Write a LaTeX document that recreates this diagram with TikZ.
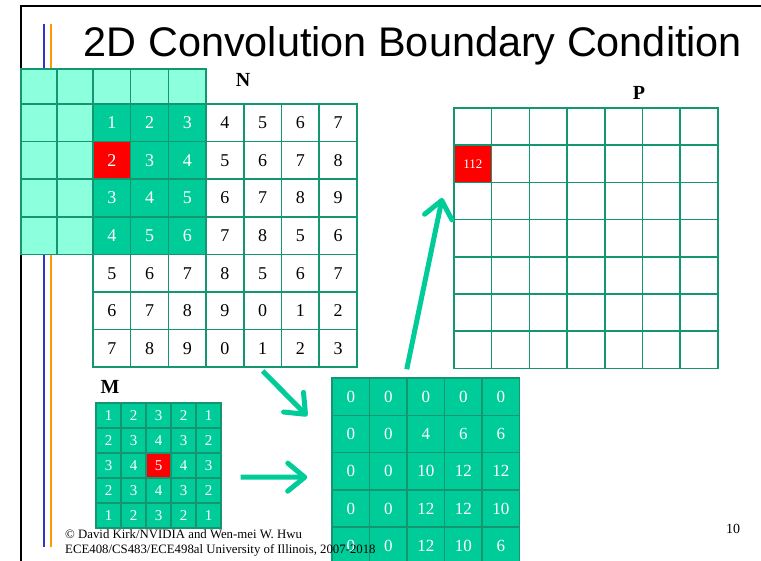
\documentclass[tikz,border=0pt]{standalone}
\usepackage{fontspec}
\setmainfont{Liberation Serif}
\newfontfamily\headfont{Liberation Sans}
\usetikzlibrary{arrows.meta,calc}
\definecolor{cellline}{RGB}{20,150,112}
\definecolor{mint}{RGB}{0,204,153}
\definecolor{ghost}{RGB}{140,255,221}
\definecolor{barblue}{RGB}{51,51,204}
\definecolor{barorange}{RGB}{255,153,0}

\begin{document}
\begin{tikzpicture}[x=1pt,y=-1pt,
  frame/.style={draw=black,line width=2.4pt},
  bar/.style={line width=2.6pt},
  cell/.style={draw=cellline,line width=1.5pt,inner sep=0pt,minimum width=37.7pt,minimum height=37.6pt,font=\fontsize{18}{18}\selectfont},
  ghostcell/.style={cell,fill=ghost},
  kcell/.style={cell,fill=mint,text=white,minimum width=25pt,minimum height=25pt,line width=1.2pt,font=\fontsize{15}{15}\selectfont},
  scell/.style={cell,fill=mint,text=white,minimum width=37.5pt,minimum height=37.3pt,font=\fontsize{17}{17}\selectfont},
  pcell/.style={cell,fill=white,minimum height=37.2pt},
  gridtitle/.style={font=\fontsize{20}{20}\selectfont\bfseries},
  foot/.style={font=\fontsize{12.8}{12.8}\selectfont,inner sep=0pt},
  flow/.style={draw=mint,line width=5pt,-{Straight Barb[length=17pt,width=28pt,round]}},
]

\clip (0,0) rectangle (761,561);
\fill[white] (0,0) rectangle (761,561);
\draw[frame] (21,561) -- (21,6) -- (761,6);
\draw[bar,barblue] (44,24) -- (44,547);
\draw[bar,barorange] (51,24) -- (51,547);

\node[anchor=base,inner sep=0pt,font=\headfont\fontsize{41.4}{41.4}\selectfont] (title) at (413,57) {2D Convolution Boundary Condition};

\foreach \c/\x in {1/39,2/75} {
  \node[ghostcell,minimum width=36pt,minimum height=35pt] (g-0-\c) at (\x,86.5) {};
  \foreach \r in {1,...,4}
    \node[ghostcell,minimum width=36pt] (g-\r-\c) at (\x,{104+37.6*(\r-0.5)}) {};
}
\foreach \c in {1,2,3}
  \node[ghostcell,minimum height=35pt] (g-0-n\c) at ({93+37.7*(\c-0.5)},86.5) {};

\foreach \row [count=\r] in {{1,2,3,4,5,6,7},{2,3,4,5,6,7,8},{3,4,5,6,7,8,9},{4,5,6,7,8,5,6},{5,6,7,8,5,6,7},{6,7,8,9,0,1,2},{7,8,9,0,1,2,3}} {
  \foreach \v [count=\c] in \row {
    \def\fc{white}\def\tc{black}
    \ifnum\r<5 \ifnum\c<4 \def\fc{mint}\def\tc{white}\fi\fi
    \ifnum\r=2 \ifnum\c=1 \def\fc{red}\fi\fi
    \node[cell,fill=\fc,text=\tc] (n-\r-\c) at ({93+37.7*(\c-0.5)},{104+37.6*(\r-0.5)}) {\v};
  }
}
\node[gridtitle] (nlabel) at (243,80) {N};

\foreach \r in {1,...,7}
  \foreach \c in {1,...,7}
    \node[pcell] (p-\r-\c) at ({454+37.7*(\c-0.5)},{108+37.2*(\r-0.5)}) {};
\node[pcell,fill=red,text=white,font=\fontsize{13}{13}\selectfont] (phit) at (p-2-1) {112};
\node[gridtitle] (plabel) at (639,93) {P};

\foreach \row [count=\r] in {{1,2,3,2,1},{2,3,4,3,2},{3,4,5,4,3},{2,3,4,3,2},{1,2,3,2,1}} {
  \foreach \v [count=\c] in \row {
    \def\fc{mint}
    \ifnum\r=3 \ifnum\c=3 \def\fc{red}\fi\fi
    \node[kcell,fill=\fc] (m-\r-\c) at ({96+25*(\c-0.5)},{403+25*(\r-0.5)}) {\v};
  }
}
\node[gridtitle] (mlabel) at (110,387) {M};

\foreach \row [count=\r] in {{0,0,0,0,0},{0,0,4,6,6},{0,0,10,12,12},{0,0,12,12,10},{0,0,12,10,6}} {
  \foreach \v [count=\c] in \row
    \node[scell] (s-\r-\c) at ({332+37.5*(\c-0.5)},{378+37.3*(\r-0.5)}) {\v};
}

\coordinate (nout) at ($(n-7-5.south)+(0,3)$);
\coordinate (sin) at ($(s-1-1.south west)+(-24,0)$);
\coordinate (mout) at ($(m-3-5.east)+(19,11.5)$);
\coordinate (sleft) at ($(s-3-1.west)+(-24,6)$);
\coordinate (sout) at ($(s-1-2.north east)+(-1,-8)$);
\coordinate (pin) at ($(p-3-1.west)+(-11,-3)$);
\draw[flow] (nout) -- (sin);
\draw[flow] (mout) -- (sleft);
\draw[flow] (sout) -- (pin);

\node[foot,anchor=base west] (credit) at (65,538) {© David Kirk/NVIDIA and Wen-mei W. Hwu};
\node[foot,anchor=base west] (course) at (65,553) {ECE408/CS483/ECE498al University of Illinois, 2007-2018};
\node[foot,font=\fontsize{14}{14}\selectfont] (pagenum) at (733,529) {10};

\end{tikzpicture}
\end{document}
